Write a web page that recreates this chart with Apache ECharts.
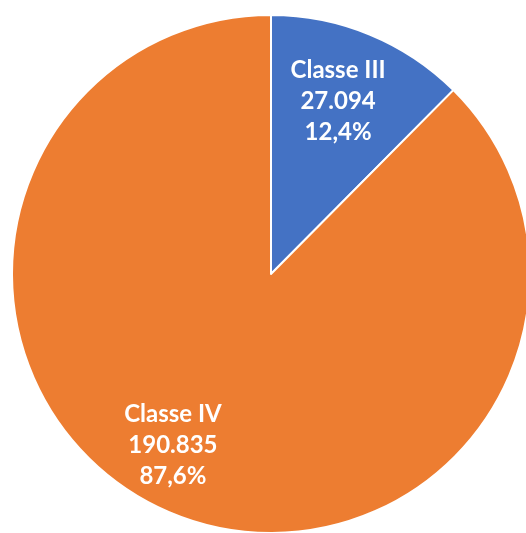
<!DOCTYPE html>
<html>
<head>
<meta charset="utf-8">
<script src="https://cdn.jsdelivr.net/npm/echarts@6/dist/echarts.min.js"></script>
<style>
html,body{margin:0;padding:0;background:#fff;}
#chart{width:526px;height:533px;}
</style>
</head>
<body>
<div id="chart"></div>
<script>
var categories = ['Classe III', 'Classe IV'];
var values = [27094, 190835];
var colors = ['#4472C4', '#ED7D31'];
var labelOffsets = [[-6, 5], [-25, -6]];

function fmtInt(v) {
  return String(v).replace(/\B(?=(\d{3})+(?!\d))/g, '.');
}
var total = values.reduce(function (a, b) { return a + b; }, 0);

var baseData = categories.map(function (c, i) {
  return { name: c, value: values[i], itemStyle: { color: colors[i] } };
});
var labelData = categories.map(function (c, i) {
  return { name: c, value: values[i], label: { offset: labelOffsets[i] } };
});

var chart = echarts.init(document.getElementById('chart'), null, { renderer: 'canvas' });
chart.setOption({
  animation: false,
  backgroundColor: '#fff',
  series: [
    {
      type: 'pie',
      center: [271, 274],
      radius: [0, 259],
      startAngle: 90,
      clockwise: true,
      silent: true,
      label: { show: false },
      labelLine: { show: false },
      itemStyle: { borderColor: '#fff', borderWidth: 2 },
      data: baseData
    },
    {
      type: 'pie',
      center: [271, 274],
      radius: [119, 259],
      startAngle: 90,
      clockwise: true,
      silent: true,
      itemStyle: { color: 'rgba(0,0,0,0)', borderWidth: 0 },
      labelLine: { show: false },
      label: {
        show: true,
        position: 'inside',
        color: '#fff',
        fontFamily: 'Lato',
        fontWeight: 'bold',
        fontSize: 24,
        lineHeight: 31,
        align: 'center',
        formatter: function (p) {
          var pct = (p.value / total * 100).toFixed(1).replace('.', ',');
          return p.name + '\n' + fmtInt(p.value) + '\n' + pct + '%';
        }
      },
      data: labelData
    }
  ]
});
</script>
</body>
</html>
